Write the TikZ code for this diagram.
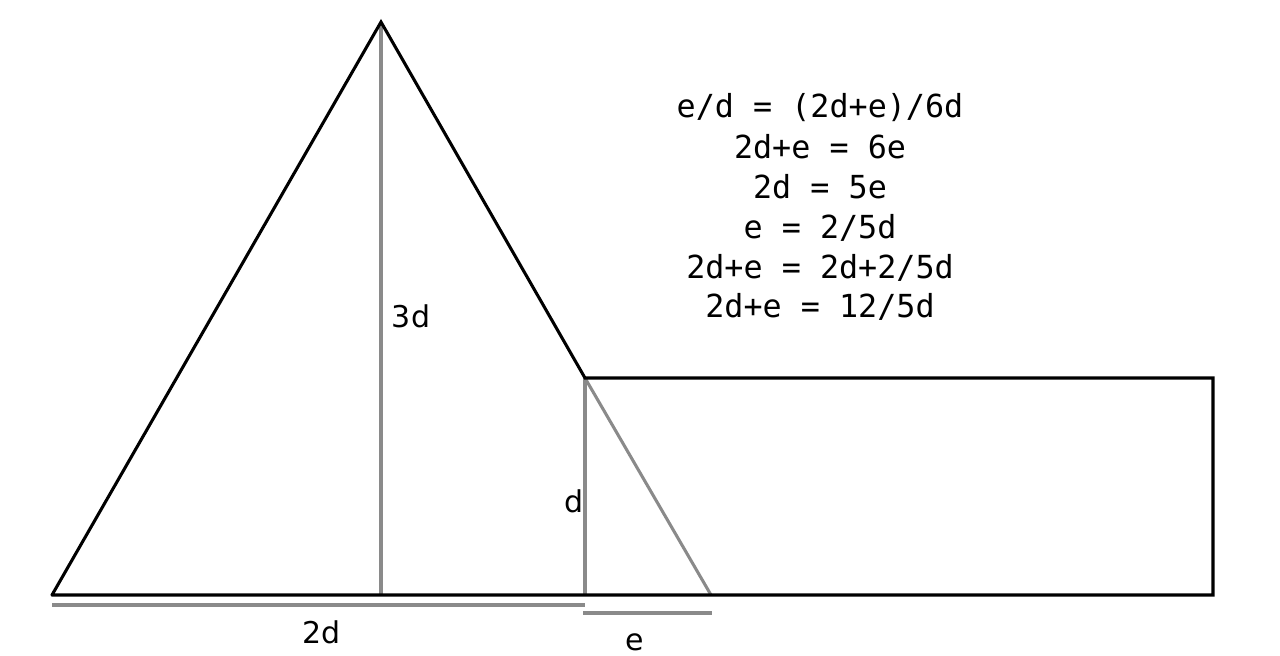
\documentclass[tikz,border=0pt]{standalone}
\usepackage{fontspec}
\setmainfont{DejaVu Sans}
\newfontfamily\eqmono{DejaVu Sans Mono}
\definecolor{lgray}{RGB}{138,138,138}
\tikzset{
  blk/.style={line width=2.3pt, black, line cap=round, line join=miter},
  gr/.style={line width=2.3pt, lgray},
  eqline/.style={anchor=base, inner sep=0pt, font=\eqmono\fontsize{23.8}{28}\selectfont},
  lab/.style={anchor=base, inner sep=0pt, font=\fontsize{22.5}{27}\selectfont}
}
\begin{document}
\begin{tikzpicture}[x=0.75pt,y=-0.75pt]
\useasboundingbox (0,0) rectangle (1280,656);
\coordinate (A) at (381,22);
\coordinate (B) at (52,595);
\coordinate (H) at (381,595);
\coordinate (C) at (585,378);
\coordinate (D) at (585,595);
\coordinate (E) at (711,595);
\coordinate (R1) at (1213,378);
\coordinate (R2) at (1213,595);
\coordinate (G1) at (52,605);
\coordinate (G2) at (585,605);
\coordinate (G3) at (583,613);
\coordinate (G4) at (712,613);
% gray construction lines
\draw[gr] (A) -- (H);
\draw[gr] (C) -- (D);
\draw[gr] (C) -- (E);
\draw[gr] (G1) -- (G2);
\draw[gr] (G3) -- (G4);
% black outline
\draw[blk] (B) -- (A) -- (C) -- (R1) -- (R2) -- (B);
% labels
\node[lab] (l3d) at (411,327) {3d};
\node[lab] (ld) at (574.5,512) {d};
\node[lab] (l2d) at (321.5,643) {2d};
\node[lab] (le) at (634.5,650) {e};
% equations
\node[eqline] (eq1) at (820,118) {e/d = (2d+e)/6d};
\node[eqline] (eq2) at (820,158) {2d+e = 6e};
\node[eqline] (eq3) at (820,198) {2d = 5e};
\node[eqline] (eq4) at (820,238) {e = 2/5d};
\node[eqline] (eq5) at (820,278) {2d+e = 2d+2/5d};
\node[eqline] (eq6) at (820,317) {2d+e = 12/5d};
\end{tikzpicture}
\end{document}
